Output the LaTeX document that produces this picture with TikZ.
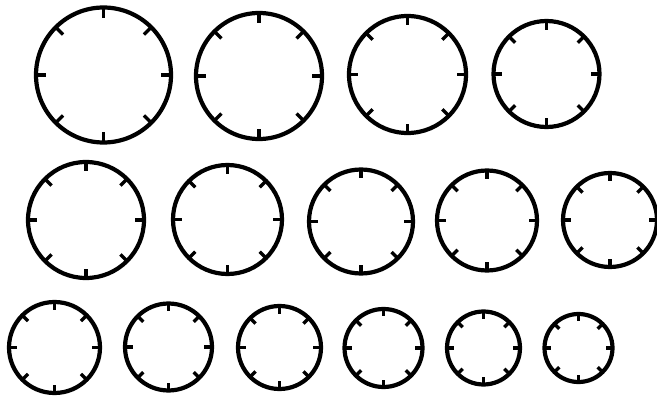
\documentclass[tikz,border=0pt]{standalone}
\begin{document}
\begin{tikzpicture}[x=1pt,y=-1pt,
  ring/.style={line width=4.2pt},
  dialtick/.style={line width=3.4pt}]
\useasboundingbox (0,0) rectangle (657,396);
\fill[white] (0,0) rectangle (657,396);
\foreach \cx/\cy/\r in {
  103.5/75/67.5, 259/76/63, 407.5/74.5/58.5, 546.5/74/53,
  86/220/58, 227.5/219.5/54.5, 361/221.5/52, 487/220.5/50, 610/220/47,
  54.5/347.5/45.5, 168.5/347/43.5, 279.5/347.5/41.5, 383.5/348/39, 483.5/348/36.5, 578.5/348/34}
{
  \draw[ring] (\cx,\cy) circle (\r);
  \foreach \a in {0,45,...,315}
    \draw[dialtick] (\cx,\cy) ++(\a:\r) -- ++(\a+180:{3.5+0.1*\r});
}
\end{tikzpicture}
\end{document}
